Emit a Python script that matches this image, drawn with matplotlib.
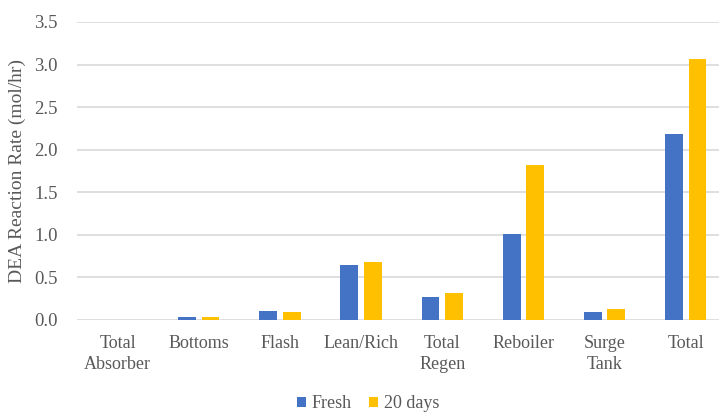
import matplotlib
matplotlib.use("Agg")
import matplotlib.pyplot as plt
import numpy as np

categories = ["Total\nAbsorber", "Bottoms", "Flash", "Lean/Rich", "Total\nRegen",
              "Reboiler", "Surge\nTank", "Total"]
fresh = [0.0, 0.04, 0.11, 0.65, 0.27, 1.01, 0.09, 2.19]
days20 = [0.0, 0.03, 0.09, 0.68, 0.32, 1.82, 0.13, 3.07]
series_names = ["Fresh", "20 days"]
yticks = [0.0, 0.5, 1.0, 1.5, 2.0, 2.5, 3.0, 3.5]

plt.rcParams['font.family'] = ['Liberation Serif', 'DejaVu Serif']
txt = '#595959'

fig = plt.figure(figsize=(7.19, 4.12), dpi=100)
ax = fig.add_axes([77/719, 1-320/412, 1-77/719, (320-22)/412])

x = np.arange(len(categories))
w = 0.22
off = 0.145
ax.bar(x - off, fresh, w, color='#4472C4', label=series_names[0], zorder=3)
ax.bar(x + off, days20, w, color='#FFC000', label=series_names[1], zorder=3)

ax.set_ylim(0, 3.5)
ax.set_xlim(-0.5, 7.41)
ax.set_yticks(yticks)
ax.set_yticklabels([f"{v:.1f}" for v in yticks])
ax.set_xticks(x)
ax.set_xticklabels(categories, linespacing=1.25)
ax.tick_params(length=0, colors=txt)
ax.tick_params(axis='y', pad=14, labelsize=13.5)
ax.tick_params(axis='x', pad=11, labelsize=13)
for s in ax.spines.values():
    s.set_visible(False)
ax.grid(axis='y', color='#D9D9D9', linewidth=1.2, zorder=0)
ax.set_axisbelow(True)

ax.set_ylabel("DEA Reaction Rate (mol/hr)", fontsize=14, color=txt, labelpad=6)

leg = fig.legend(loc='center', bbox_to_anchor=(368/719, 1-404/412), ncol=2,
                 frameon=False, fontsize=13, handlelength=0.5, handleheight=0.5,
                 handletextpad=0.3, columnspacing=1.0, labelcolor=txt)

fig.savefig("out.png", dpi=100)
